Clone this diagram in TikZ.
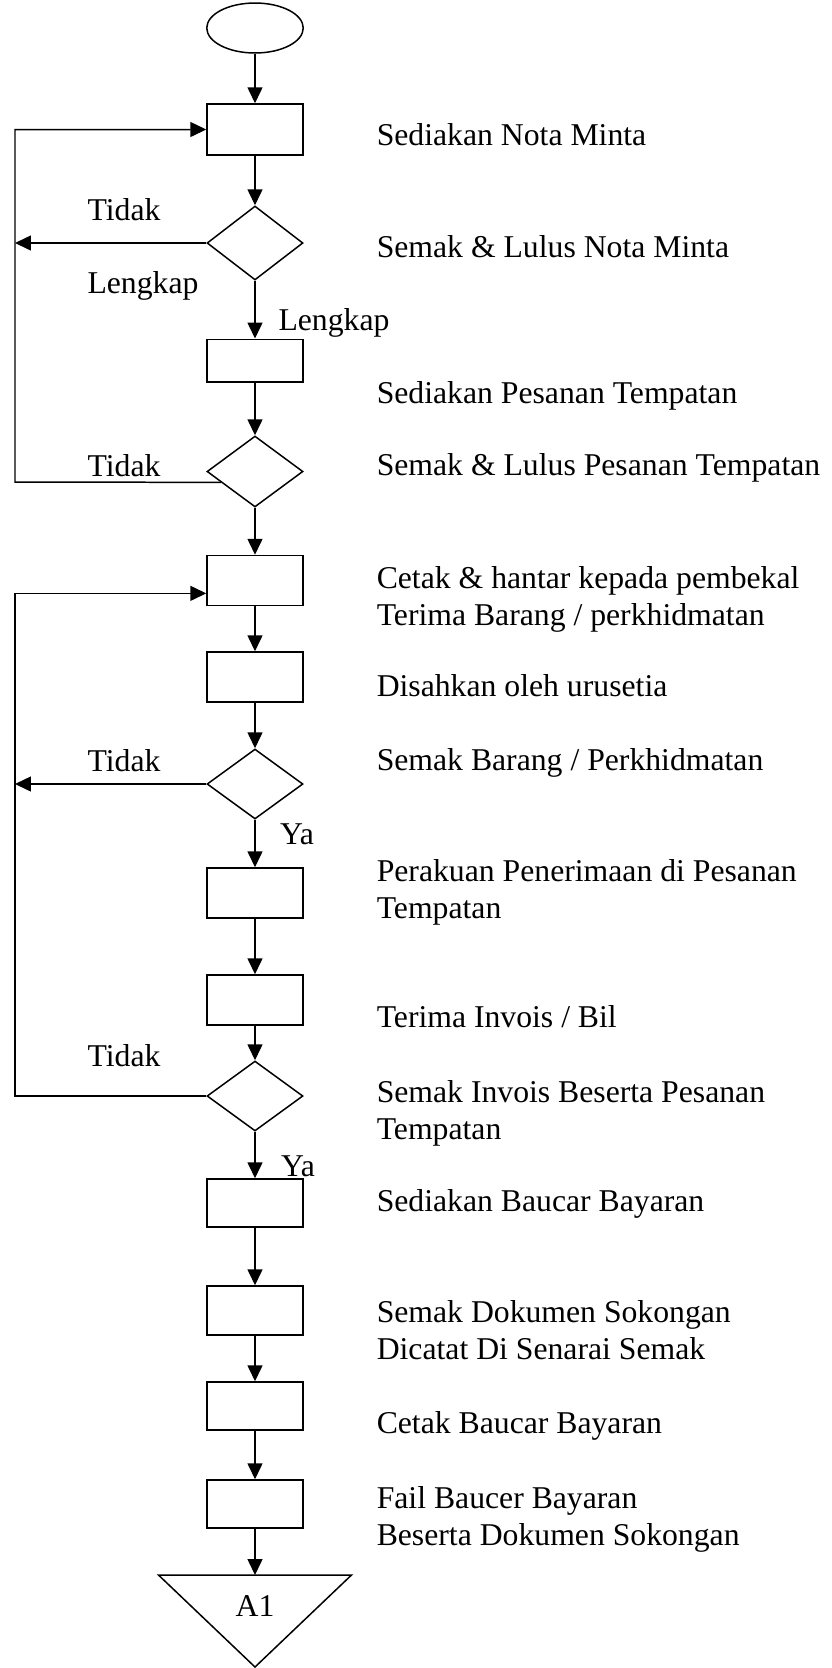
\documentclass[tikz,border=0pt]{standalone}
\usepackage{fontspec}
\setmainfont{Liberation Serif}
\usetikzlibrary{arrows.meta,shapes.geometric,calc}

\begin{document}
\begin{tikzpicture}[x=0.02cm, y=-0.02cm, >={Triangle[length=0.32cm,width=0.3cm]}, line width=0.85pt,
    kotak/.style={draw, minimum width=1.92cm, minimum height=1cm, inner sep=0pt},
    semak/.style={draw, diamond, minimum width=1.92cm, minimum height=1.42cm, inner sep=0pt},
    nota/.style={anchor=base west, align=left, inner sep=0pt, font=\fontsize{18.05}{21}\selectfont},
    pilih/.style={anchor=base, inner sep=0pt, font=\fontsize{18.05}{21}\selectfont}]
    \useasboundingbox (0,0) rectangle (832,1668);
    % carta aliran
    \node[draw, ellipse, minimum width=1.93cm, minimum height=1cm, inner sep=0pt] (mula) at (255,28) {};
    \node[kotak, minimum height=1.02cm] (k1) at (255,129.5) {};
    \node[semak, minimum height=1.48cm] (s1) at (255,243) {};
    \node[kotak, minimum height=0.85cm] (k2) at (255,360.5) {};
    \node[semak] (s2) at (255,471.5) {};
    \node[kotak] (k3) at (255,580.5) {};
    \node[kotak] (k4) at (255,677) {};
    \node[semak, minimum height=1.4cm] (s3) at (255,784) {};
    \node[kotak] (k5) at (255,893) {};
    \node[kotak] (k6) at (255,1000) {};
    \node[semak, minimum height=1.4cm] (s4) at (255,1096) {};
    \node[kotak, minimum height=0.96cm] (k7) at (255,1203) {};
    \node[kotak, minimum height=0.98cm] (k8) at (255,1310.5) {};
    \node[kotak, minimum height=0.96cm] (k9) at (255,1406) {};
    \node[kotak, minimum height=0.96cm] (k10) at (255,1504) {};
    \coordinate (a1top) at (255,1575);
    \draw (a1top) -- ++(96.5,0) -- (255,1667) -- (158.5,1575) -- cycle;
    \node[pilih] (a1) at (255,1616) {A1};
    \foreach \a/\b in {mula/k1, k1/s1, s1/k2, k2/s2, s2/k3, k3/k4, k4/s3, s3/k5,
        k5/k6, k6/s4, s4/k7, k7/k8, k8/k9, k9/k10}
        \draw[->] (\a) -- (\b);
    \draw[->] (k10) -- (a1top);
    % gelung kembali
    \coordinate (kiriA) at (15,482);
    \draw[->] ($(s2.west)!0.3!(s2.south)$) -- (kiriA) |- (k1.west);
    \draw[->] (s1.west) -- (s1.west -| kiriA);
    \coordinate (kiriB) at (15,1096);
    \coordinate (masukB) at ($(k3.south west)!0.25!(k3.north west)$);
    \draw[->] (s4.west) -- (kiriB) |- (masukB);
    \draw[->] (s3.west) -- (s3.west -| kiriB);
    % label keputusan
    \node[pilih] (t1) at (124,220) {Tidak};
    \node[pilih] (l1) at (143,293) {Lengkap};
    \node[pilih] (l2) at (334,330) {Lengkap};
    \node[pilih] (t2) at (124,476) {Tidak};
    \node[pilih] (t3) at (124,771) {Tidak};
    \node[pilih] (y1) at (297,844) {Ya};
    \node[pilih] (t4) at (124,1066) {Tidak};
    \node[pilih] (y2) at (298,1176) {Ya};
    % keterangan langkah (dua baris: base = baris akhir)
    \node[nota] (n1) at (376,145) {Sediakan Nota Minta};
    \node[nota] (n2) at (376,257) {Semak \& Lulus Nota Minta};
    \node[nota] (n3) at (376,403) {Sediakan Pesanan Tempatan};
    \node[nota] (n4) at (376,475) {Semak \& Lulus Pesanan Tempatan};
    \node[nota] (n5) at (376,625) {Cetak \& hantar kepada pembekal\\Terima Barang / perkhidmatan};
    \node[nota] (n6) at (376,696) {Disahkan oleh urusetia};
    \node[nota] (n7) at (376,770) {Semak Barang / Perkhidmatan};
    \node[nota] (n8) at (376,918) {Perakuan Penerimaan di Pesanan\\Tempatan};
    \node[nota] (n9) at (376,1027) {Terima Invois / Bil};
    \node[nota] (n10) at (376,1139) {Semak Invois Beserta Pesanan\\Tempatan};
    \node[nota] (n11) at (376,1211) {Sediakan Baucar Bayaran};
    \node[nota] (n12) at (376,1359) {Semak Dokumen Sokongan\\Dicatat Di Senarai Semak};
    \node[nota] (n13) at (376,1433) {Cetak Baucar Bayaran};
    \node[nota] (n14) at (376,1545) {Fail Baucer Bayaran\\Beserta Dokumen Sokongan};
\end{tikzpicture}
\end{document}
